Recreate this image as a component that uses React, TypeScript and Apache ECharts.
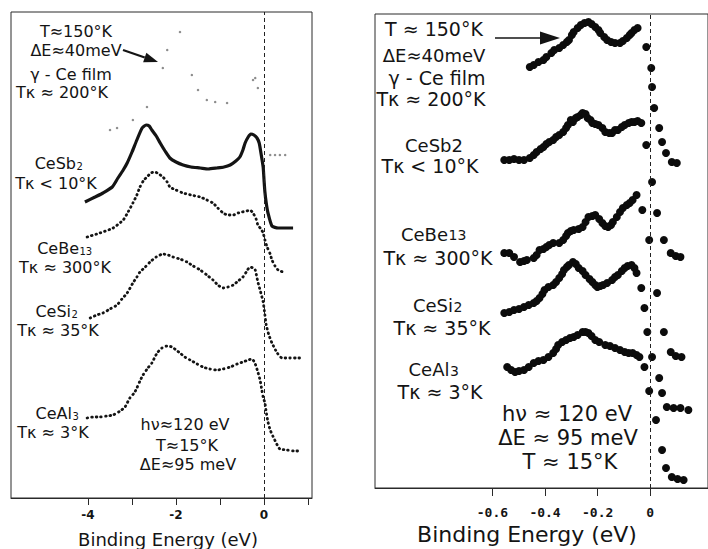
import React, { useEffect, useRef } from "react";
import * as echarts from "echarts";

const FONT = '"DejaVu Sans", sans-serif';
const INK = "#141414";

// ---------- Left panel: wide range, energy (eV) vs intensity (arb. units) ----------
const leftGammaCe: [number, number][] = [
  [-3.5, 368], [-3.34, 370], [-2.98, 378], [-2.66, 391], [-2.3, 430], [-2.2, 448], [-1.91, 466],
  [-1.64, 423], [-1.5, 408], [-1.3, 398], [-1.11, 396], [-0.84, 395], [-0.25, 418], [-0.2, 420],
  [-0.14, 410], [0.14, 343], [0.25, 343], [0.36, 343], [0.48, 343],
];
const leftCeSb2: [number, number][] = [
  [-4.07, 296], [-3.84, 301], [-3.66, 305], [-3.45, 311], [-3.32, 320], [-3.2, 328], [-3.11, 335],
  [-3.0, 346], [-2.89, 358], [-2.77, 370], [-2.68, 373], [-2.61, 372], [-2.55, 368], [-2.45, 362],
  [-2.36, 355], [-2.25, 347], [-2.14, 340], [-2.0, 336], [-1.84, 333], [-1.66, 331], [-1.45, 330],
  [-1.27, 329], [-1.07, 330], [-0.91, 331], [-0.77, 333], [-0.64, 337], [-0.55, 341], [-0.48, 348],
  [-0.43, 355], [-0.36, 361], [-0.3, 364], [-0.23, 363], [-0.16, 360], [-0.11, 355], [-0.07, 345],
  [-0.02, 331], [0.0, 318], [0.02, 306], [0.05, 295], [0.09, 285], [0.18, 272], [0.32, 270],
  [0.48, 270], [0.66, 270],
];
const leftCeBe13: [number, number][] = [
  [-4.02, 261], [-3.73, 265], [-3.43, 270], [-3.2, 278], [-3.09, 286], [-2.98, 295], [-2.89, 303],
  [-2.82, 311], [-2.73, 318], [-2.66, 321], [-2.57, 325], [-2.48, 326], [-2.39, 324], [-2.3, 321],
  [-2.2, 316], [-2.14, 311], [-2.0, 308], [-1.84, 305], [-1.66, 303], [-1.45, 301], [-1.3, 298],
  [-1.16, 295], [-1.05, 290], [-0.93, 285], [-0.82, 283], [-0.7, 283], [-0.59, 285], [-0.5, 286],
  [-0.39, 287], [-0.32, 288], [-0.25, 285], [-0.18, 279], [-0.14, 273], [-0.07, 269], [-0.02, 265],
  [0.02, 258], [0.07, 251], [0.14, 244], [0.18, 238], [0.25, 232], [0.32, 228], [0.43, 226],
];
const leftCeSi2: [number, number][] = [
  [-3.95, 180], [-3.8, 183], [-3.66, 185], [-3.5, 189], [-3.34, 193], [-3.23, 199], [-3.11, 205],
  [-2.98, 215], [-2.89, 221], [-2.82, 226], [-2.7, 231], [-2.59, 236], [-2.45, 241], [-2.3, 244],
  [-2.18, 243], [-2.07, 241], [-1.91, 239], [-1.75, 236], [-1.61, 232], [-1.45, 228], [-1.3, 223],
  [-1.16, 218], [-1.05, 213], [-0.93, 210], [-0.82, 211], [-0.7, 213], [-0.59, 217], [-0.48, 221],
  [-0.39, 227], [-0.32, 231], [-0.25, 230], [-0.2, 228], [-0.14, 216], [-0.09, 208], [-0.02, 196],
  [0.02, 183], [0.05, 173], [0.11, 163], [0.18, 155], [0.3, 145], [0.41, 140], [0.59, 140],
  [0.75, 140], [0.89, 140],
];
const leftCeAl3: [number, number][] = [
  [-4.02, 80], [-3.89, 81], [-3.73, 81], [-3.57, 82], [-3.43, 83], [-3.27, 87], [-3.16, 91],
  [-3.05, 100], [-2.95, 105], [-2.89, 110], [-2.82, 117], [-2.75, 123], [-2.64, 130], [-2.55, 135],
  [-2.43, 145], [-2.32, 150], [-2.2, 152], [-2.09, 151], [-2.0, 148], [-1.91, 145], [-1.8, 141],
  [-1.68, 138], [-1.52, 134], [-1.39, 131], [-1.23, 129], [-1.07, 128], [-0.93, 129], [-0.77, 131],
  [-0.61, 134], [-0.48, 136], [-0.36, 138], [-0.27, 139], [-0.2, 134], [-0.14, 126], [-0.09, 118],
  [-0.05, 108], [-0.02, 101], [0.02, 95], [0.05, 86], [0.09, 76], [0.14, 68], [0.2, 62], [0.3, 53],
  [0.36, 49], [0.52, 48], [0.68, 47], [0.82, 47],
];

// ---------- Right panel: near the Fermi level ----------
const rightGammaCe: [number, number][] = [
  [-0.458, 421], [-0.443, 423], [-0.425, 426], [-0.406, 428], [-0.395, 431], [-0.376, 435],
  [-0.365, 438], [-0.346, 440], [-0.331, 443], [-0.317, 446], [-0.309, 448], [-0.298, 453],
  [-0.291, 456], [-0.276, 460], [-0.264, 463], [-0.25, 465], [-0.235, 466], [-0.223, 464],
  [-0.209, 461], [-0.197, 458], [-0.19, 455], [-0.175, 451], [-0.164, 448], [-0.149, 446],
  [-0.134, 445], [-0.115, 445], [-0.104, 447], [-0.089, 450], [-0.078, 453], [-0.071, 455],
  [-0.06, 458], [-0.048, 460], [-0.015, 441], [0.004, 420], [0.007, 401], [0.015, 380],
  [0.034, 360], [0.045, 346], [0.06, 335], [0.082, 326], [0.101, 325],
];
const rightCeSb2: [number, number][] = [
  [-0.555, 328], [-0.536, 328], [-0.518, 329], [-0.499, 328], [-0.48, 328], [-0.458, 330],
  [-0.443, 333], [-0.432, 336], [-0.417, 339], [-0.406, 341], [-0.395, 344], [-0.384, 346],
  [-0.369, 348], [-0.358, 351], [-0.346, 353], [-0.331, 356], [-0.32, 360], [-0.313, 363],
  [-0.302, 368], [-0.294, 366], [-0.283, 370], [-0.276, 371], [-0.264, 373], [-0.257, 375],
  [-0.246, 374], [-0.238, 370], [-0.227, 368], [-0.22, 365], [-0.209, 364], [-0.197, 363],
  [-0.182, 360], [-0.171, 356], [-0.156, 355], [-0.145, 355], [-0.134, 358], [-0.123, 358],
  [-0.108, 361], [-0.097, 363], [-0.082, 365], [-0.071, 366], [-0.06, 366], [-0.048, 367],
  [-0.034, 365], [-0.015, 343], [0.007, 306], [0.026, 275], [0.052, 248], [0.078, 235],
  [0.097, 232], [0.115, 231],
];
const rightCeBe13: [number, number][] = [
  [-0.555, 235], [-0.536, 235], [-0.518, 231], [-0.495, 226], [-0.48, 227], [-0.469, 228],
  [-0.443, 230], [-0.432, 233], [-0.421, 238], [-0.406, 239], [-0.395, 241], [-0.384, 243],
  [-0.369, 245], [-0.346, 245], [-0.331, 248], [-0.32, 252], [-0.313, 255], [-0.302, 257],
  [-0.291, 258], [-0.272, 259], [-0.257, 261], [-0.246, 266], [-0.235, 271], [-0.22, 272],
  [-0.209, 273], [-0.194, 269], [-0.182, 265], [-0.171, 262], [-0.16, 261], [-0.149, 263],
  [-0.142, 266], [-0.127, 271], [-0.115, 276], [-0.104, 280], [-0.089, 283], [-0.078, 285],
  [-0.067, 288], [-0.052, 293], [-0.03, 278], [-0.004, 248], [0.026, 195], [0.052, 156],
  [0.078, 136], [0.097, 132], [0.119, 131],
];
const rightCeSi2: [number, number][] = [
  [-0.555, 175], [-0.536, 176], [-0.518, 178], [-0.499, 179], [-0.48, 181], [-0.462, 183],
  [-0.443, 185], [-0.432, 187], [-0.421, 190], [-0.41, 194], [-0.402, 198], [-0.387, 201],
  [-0.369, 203], [-0.358, 206], [-0.346, 210], [-0.335, 214], [-0.328, 218], [-0.317, 221],
  [-0.309, 223], [-0.294, 226], [-0.283, 224], [-0.272, 220], [-0.257, 217], [-0.246, 213],
  [-0.231, 209], [-0.22, 206], [-0.209, 203], [-0.201, 201], [-0.19, 202], [-0.179, 203],
  [-0.164, 205], [-0.145, 208], [-0.134, 211], [-0.123, 213], [-0.108, 217], [-0.097, 220],
  [-0.086, 222], [-0.071, 223], [-0.06, 220], [-0.052, 215], [-0.034, 200], [-0.022, 180],
  [-0.011, 156], [0.007, 131], [0.034, 110], [0.045, 95], [0.063, 81], [0.089, 80], [0.115, 80],
  [0.145, 78],
];
const rightCeAl3: [number, number][] = [
  [-0.544, 121], [-0.529, 118], [-0.514, 116], [-0.499, 117], [-0.48, 118], [-0.462, 121],
  [-0.443, 125], [-0.425, 127], [-0.406, 128], [-0.387, 131], [-0.369, 135], [-0.358, 139],
  [-0.35, 143], [-0.335, 146], [-0.32, 148], [-0.305, 150], [-0.291, 151], [-0.276, 153],
  [-0.257, 156], [-0.246, 156], [-0.235, 155], [-0.223, 152], [-0.209, 148], [-0.194, 146],
  [-0.171, 143], [-0.153, 142], [-0.134, 140], [-0.115, 138], [-0.097, 136], [-0.082, 135],
  [-0.067, 135], [-0.052, 133], [-0.041, 131], [-0.022, 121], [-0.004, 97], [0.022, 68],
  [0.045, 38], [0.06, 20], [0.082, 11], [0.104, 9], [0.127, 8],
];

const leftTicks = [-4, -3, -2, -1, 0, 1];
const leftTickLabels = [-4, -2, 0];
const rightTicks = [-0.6, -0.4, -0.2, 0];
const axisTitle = "Binding Energy (eV)";

function txt(x: number, y: number, text: string, size: number, align: string = "center") {
  return {
    type: "text",
    x,
    y,
    silent: true,
    style: {
      text,
      fill: INK,
      fontSize: size,
      fontFamily: FONT,
      lineHeight: size,
      align,
      verticalAlign: "middle",
      textAlign: align,
      textVerticalAlign: "middle",
    },
  };
}

function chem(xEnd: number, y: number, base: string, sub: string, size: number, subSize: number, dy: number) {
  return [txt(xEnd, y, base, size, "right"), txt(xEnd + 0.5, y + dy, sub, subSize, "left")];
}

function arrow(x1: number, y1: number, x2: number, y2: number, head: number, half: number, w: number) {
  const L = Math.hypot(x2 - x1, y2 - y1);
  const ux = (x2 - x1) / L;
  const uy = (y2 - y1) / L;
  const bx = x2 - head * ux;
  const by = y2 - head * uy;
  return [
    { type: "line", silent: true, shape: { x1, y1, x2: bx, y2: by }, style: { stroke: INK, lineWidth: w } },
    {
      type: "polygon",
      silent: true,
      shape: { points: [[x2, y2], [bx - half * uy, by + half * ux], [bx + half * uy, by - half * ux]] },
      style: { fill: INK },
    },
  ];
}

export default function App() {
  const ref = useRef<HTMLDivElement>(null);
  useEffect(() => {
    if (!ref.current) return;
    const chart = echarts.init(ref.current, undefined, { renderer: "svg" });
    const dotted = (w: number) => ({ color: INK, width: w, type: [0.6, 4], cap: "round" });
    const zeroLine = {
      silent: true,
      symbol: ["none", "none"],
      label: { show: false },
      lineStyle: { color: "#222", width: 1, type: [4, 3] },
      data: [{ xAxis: 0 }],
    };
    const option: any = {
      animation: false,
      backgroundColor: "#ffffff",
      grid: [
        { left: 11, top: 12, width: 301, height: 486, show: true, borderColor: "#2a2a2a", borderWidth: 1 },
        { left: 375, top: 14, width: 340, height: 474, show: true, borderColor: "#2a2a2a", borderWidth: 1 },
      ],
      xAxis: [
        {
          gridIndex: 0,
          type: "value",
          min: -5.75,
          max: 1.09,
          splitLine: { show: false },
          axisLine: { show: true, onZero: false, lineStyle: { color: "#2a2a2a" } },
          axisTick: { show: true, customValues: leftTicks, length: 7, lineStyle: { color: "#2a2a2a" } },
          axisLabel: {
            customValues: leftTickLabels,
            margin: 11,
            color: INK,
            fontFamily: FONT,
            fontSize: 12,
            fontWeight: "bold",
            formatter: (v: number) => (v < 0 ? "-" + Math.abs(v) : String(v)),
          },
        },
        {
          gridIndex: 1,
          type: "value",
          min: -1.0466,
          max: 0.2197,
          splitLine: { show: false },
          axisLine: { show: true, onZero: false, lineStyle: { color: "#2a2a2a" } },
          axisTick: { show: true, customValues: rightTicks, length: 8, lineStyle: { color: "#2a2a2a" } },
          axisLabel: {
            customValues: rightTicks,
            margin: 18,
            color: INK,
            fontFamily: '"DejaVu Sans Mono", monospace',
            fontSize: 13,
            fontWeight: "bold",
            formatter: (v: number) => (Math.abs(v) < 1e-9 ? "0" : v.toFixed(1)),
          },
        },
      ],
      yAxis: [
        { gridIndex: 0, type: "value", min: 0, max: 486, show: false, splitLine: { show: false } },
        { gridIndex: 1, type: "value", min: 0, max: 474, show: false, splitLine: { show: false } },
      ],
      series: [
        {
          name: "γ-Ce film (wide)",
          type: "scatter",
          xAxisIndex: 0,
          yAxisIndex: 0,
          data: leftGammaCe,
          symbolSize: 2.5,
          itemStyle: { color: "#8c8c8c", opacity: 1 },
          silent: true,
        },
        {
          name: "CeSb2 (wide)",
          type: "line",
          xAxisIndex: 0,
          yAxisIndex: 0,
          data: leftCeSb2,
          showSymbol: false,
          smooth: 0.2,
          lineStyle: { color: INK, width: 3.2 },
          silent: true,
          markLine: zeroLine,
        },
        {
          name: "CeBe13 (wide)",
          type: "line",
          xAxisIndex: 0,
          yAxisIndex: 0,
          data: leftCeBe13,
          showSymbol: false,
          smooth: 0.2,
          lineStyle: dotted(2.8),
          silent: true,
        },
        {
          name: "CeSi2 (wide)",
          type: "line",
          xAxisIndex: 0,
          yAxisIndex: 0,
          data: leftCeSi2,
          showSymbol: false,
          smooth: 0.2,
          lineStyle: dotted(2.8),
          silent: true,
        },
        {
          name: "CeAl3 (wide)",
          type: "line",
          xAxisIndex: 0,
          yAxisIndex: 0,
          data: leftCeAl3,
          showSymbol: false,
          smooth: 0.2,
          lineStyle: dotted(2.8),
          silent: true,
        },
        ...[
          ["γ-Ce film", rightGammaCe],
          ["CeSb2", rightCeSb2],
          ["CeBe13", rightCeBe13],
          ["CeSi2", rightCeSi2],
          ["CeAl3", rightCeAl3],
        ].map(([n, d], i) => ({
          name: n as string,
          type: "scatter",
          xAxisIndex: 1,
          yAxisIndex: 1,
          data: d,
          symbolSize: 8,
          itemStyle: { color: "#0c0c0c", opacity: 1 },
          silent: true,
          ...(i === 0 ? { markLine: zeroLine } : {}),
        })),
      ],
      graphic: [
        // axis titles
        txt(168, 539, axisTitle, 18),
        txt(527, 534, axisTitle, 22),
        // left panel annotations
        txt(76, 31, "T≈150°K", 16),
        txt(76, 50, "ΔE≈40meV", 16),
        ...arrow(123, 50, 158, 62, 14, 5, 2.2),
        txt(71, 74, "γ - Ce film", 16),
        txt(62, 92, "Tκ ≈ 200°K", 16),
        ...chem(76, 163, "CeSb", "2", 16, 10, 3),
        txt(56, 183, "Tκ < 10°K", 16),
        ...chem(79, 248, "CeBe", "13", 16, 10, 3),
        txt(65, 267, "Tκ ≈ 300°K", 16),
        ...chem(71, 311, "CeSi", "2", 16, 10, 3),
        txt(58, 330, "Tκ ≈ 35°K", 16),
        ...chem(72, 413, "CeAl", "3", 16, 10, 3),
        txt(53, 432, "Tκ ≈ 3°K", 16),
        txt(185, 424, "hν≈120 eV", 16),
        txt(187, 445, "T≈15°K", 16),
        txt(188, 464, "ΔE≈95 meV", 16),
        // right panel annotations
        txt(434, 29, "T ≈ 150°K", 19),
        txt(434, 55, "ΔE≈40meV", 18),
        ...arrow(495, 38, 560, 38, 20, 6.5, 1.4),
        txt(437, 78, "γ - Ce film", 19),
        txt(431, 99, "Tκ ≈ 200°K", 19),
        txt(434, 145, "CeSb2", 18),
        txt(430, 166, "Tκ < 10°K", 19),
        ...chem(448, 234, "CeBe", "13", 18, 14, 1),
        txt(438, 258, "Tκ ≈ 300°K", 19),
        ...chem(453, 305, "CeSi", "2", 18, 14, 2),
        txt(442, 328, "Tκ ≈ 35°K", 19),
        ...chem(449.5, 369, "CeAl", "3", 18, 14, 2),
        txt(440, 392, "Tκ ≈ 3°K", 19),
        txt(567, 414, "hν ≈ 120 eV", 21),
        txt(568, 438, "ΔE ≈ 95 meV", 21),
        txt(570, 462, "T ≈ 15°K", 21),
      ],
    };
    chart.setOption(option);
    return () => chart.dispose();
  }, []);
  return (
    <div
      ref={ref}
      style={{ position: "fixed", left: 0, top: 0, width: 708, height: 549, background: "#ffffff" }}
    />
  );
}
